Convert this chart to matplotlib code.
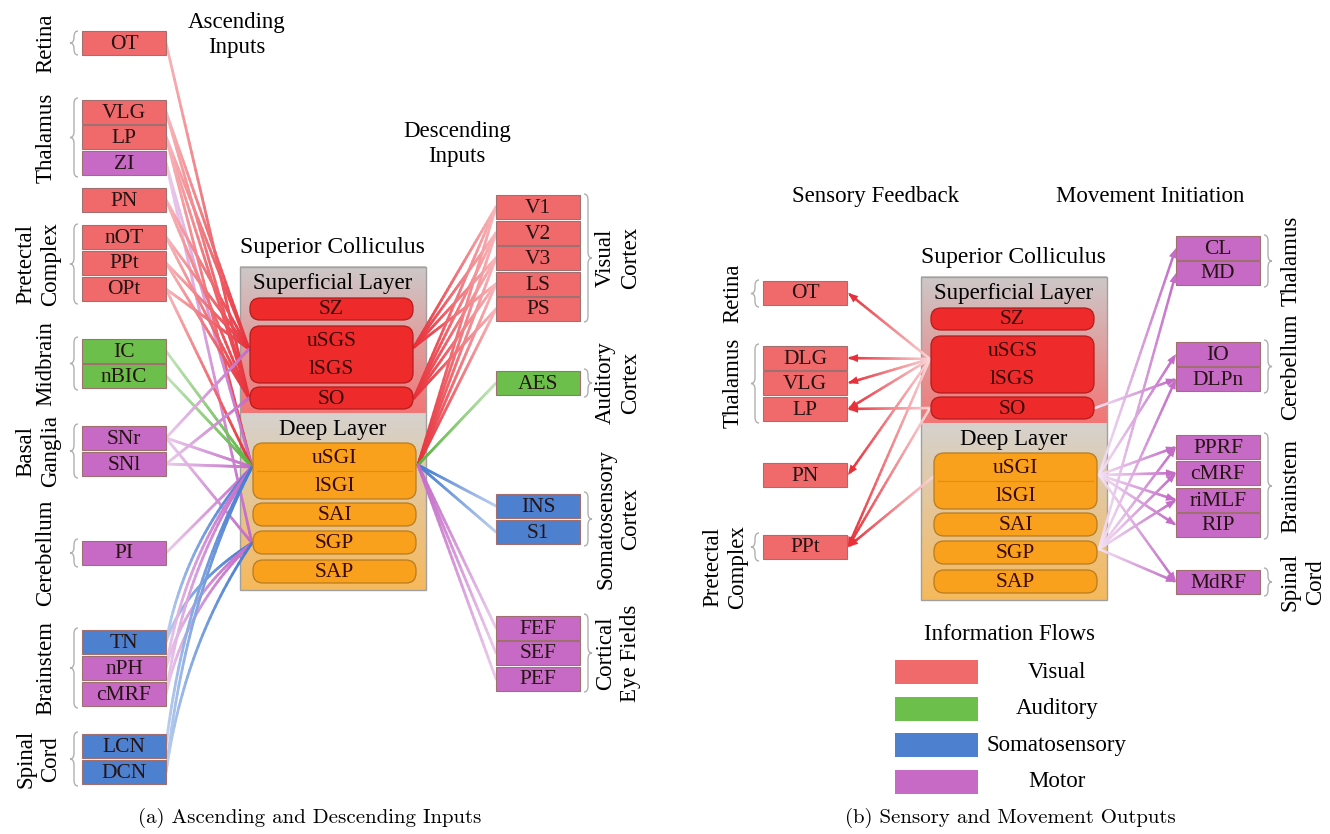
import numpy as np
import matplotlib.pyplot as plt
from matplotlib.patches import Rectangle, FancyBboxPatch, PathPatch, Polygon
from matplotlib.collections import LineCollection
from matplotlib.path import Path
from matplotlib.colors import to_rgb

plt.rcParams['font.family'] = ['Liberation Serif', 'DejaVu Serif']

# flow type -> colour
box_col = {'vis': '#f06a6c', 'aud': '#6dbf4b', 'som': '#4d80cf', 'mot': '#c66ac6'}
line_col = {'vis': '#e8303a', 'aud': '#58b43e', 'som': '#457bd0', 'mot': '#c46cc8'}

# ---- (a) ascending inputs (left column)
asc_names = ["OT", "VLG", "LP", "ZI", "PN", "nOT", "PPt", "OPt", "IC", "nBIC",
             "SNr", "SNl", "PI", "TN", "nPH", "cMRF", "LCN", "DCN"]
asc_flow = ["vis", "vis", "vis", "mot", "vis", "vis", "vis", "vis", "aud", "aud",
            "mot", "mot", "mot", "som", "mot", "mot", "som", "som"]
asc_y = [43, 112, 137, 163, 200, 237, 263, 289, 351, 376,
         438, 464, 553, 642, 668, 694, 746, 772]
asc_targets = {
    "OT": ["SO"], "VLG": ["uSGS", "SO"], "LP": ["uSGS", "SO", "uSGI"],
    "ZI": ["uSGI", "SGP"], "PN": ["uSGS", "SO"], "nOT": ["uSGS", "SO"],
    "PPt": ["uSGS", "SO"], "OPt": ["uSGS", "uSGI"], "IC": ["uSGI"],
    "nBIC": ["uSGI"], "SNr": ["uSGS", "uSGI", "SGP"], "SNl": ["SO", "uSGI"],
    "PI": ["uSGI"], "TN": ["uSGI", "SGP"], "nPH": ["uSGI", "SGP"],
    "cMRF": ["uSGI", "SGP"], "LCN": ["uSGI"], "DCN": ["uSGI", "SGP"],
}
asc_groups = [("Retina", 31, 55), ("Thalamus", 98, 177), ("Pretectal\nComplex", 224, 304),
              ("Midbrain", 337, 390), ("Basal\nGanglia", 424, 478), ("Cerebellum", 539, 567),
              ("Brainstem", 628, 708), ("Spinal\nCord", 732, 786)]

# ---- (a) descending inputs (right column)
desc_names = ["V1", "V2", "V3", "LS", "PS", "AES", "INS", "S1", "FEF", "SEF", "PEF"]
desc_flow = ["vis", "vis", "vis", "vis", "vis", "aud", "som", "som", "mot", "mot", "mot"]
desc_y = [207, 233, 258, 284, 309, 383, 506, 532, 628, 653, 679]
desc_targets = {
    "V1": ["uSGS", "SO", "uSGI"], "V2": ["uSGS", "SO", "uSGI"],
    "V3": ["uSGS", "SO", "uSGI"], "LS": ["uSGS", "SO", "uSGI"],
    "PS": ["SO", "uSGI"], "AES": ["uSGI"], "INS": ["uSGI"], "S1": ["uSGI"],
    "FEF": ["uSGI"], "SEF": ["uSGI"], "PEF": ["uSGI"],
}
desc_groups = [("Visual\nCortex", 194, 322), ("Auditory\nCortex", 369, 397),
               ("Somatosensory\nCortex", 492, 546), ("Cortical\nEye Fields", 614, 692)]

# ---- (b) sensory feedback outputs (left column)
fb_names = ["OT", "DLG", "VLG", "LP", "PN", "PPt"]
fb_y = [293, 358, 383, 409, 475, 547]
fb_sources = {
    "OT": ["uSGS"], "DLG": ["uSGS"], "VLG": ["uSGS"], "LP": ["uSGS", "SO"],
    "PN": ["uSGS"], "PPt": ["uSGS", "SO", "uSGI"],
}
fb_groups = [("Retina", 280, 307), ("Thalamus", 344, 423), ("Pretectal\nComplex", 533, 561)]

# ---- (b) movement initiation outputs (right column)
mv_names = ["CL", "MD", "IO", "DLPn", "PPRF", "cMRF", "riMLF", "RIP", "MdRF"]
mv_y = [248, 273, 354, 379, 447, 473, 500, 525, 582]
mv_sources = {
    "CL": ["uSGI"], "MD": ["SGP"], "IO": ["uSGI"], "DLPn": ["SO", "SGP"],
    "PPRF": ["uSGI", "SGP"], "cMRF": ["uSGI", "SGP"], "riMLF": ["uSGI", "SGP"],
    "RIP": ["uSGI"], "MdRF": ["uSGI", "SGP"],
}
mv_groups = [("Thalamus", 235, 287), ("Cerebellum", 340, 393),
             ("Brainstem", 433, 539), ("Spinal\nCord", 568, 596)]

legend_names = ["Visual", "Auditory", "Somatosensory", "Motor"]
legend_flow = ["vis", "aud", "som", "mot"]

fig = plt.figure(figsize=(13.3, 8.34), dpi=100)
ax = fig.add_axes([0, 0, 1, 1])
ax.set_xlim(0, 1330)
ax.set_ylim(834, 0)
ax.axis('off')

BW, BH = 84, 24
FS = 16.5


def box(x, yc, name, col):
    ax.add_patch(Rectangle((x, yc - BH / 2), BW, BH, fc=col, ec='#a07070', lw=0.8, zorder=4))
    ax.text(x + BW / 2, yc + 1, name, ha='center', va='center', fontsize=15.5,
            color='#261414', zorder=5)


def brace(x, y0, y1, side, w=8):
    s = -1 if side == 'left' else 1
    ym = (y0 + y1) / 2
    r = min(6, (y1 - y0) / 4)
    xm, xt = x + s * w / 2, x + s * w
    verts = [(x, y0), (xm, y0), (xm, y0 + r), (xm, ym - r), (xm, ym), (xt, ym),
             (xm, ym), (xm, ym + r), (xm, y1 - r), (xm, y1), (x, y1)]
    codes = [Path.MOVETO, Path.CURVE3, Path.CURVE3, Path.LINETO, Path.CURVE3, Path.CURVE3,
             Path.CURVE3, Path.CURVE3, Path.LINETO, Path.CURVE3, Path.CURVE3]
    ax.add_patch(PathPatch(Path(verts, codes), fc='none', ec='#b0b0b0', lw=1.0, zorder=3))


def flow(p0, p1, col, ctrl=None, lw=2.0, arrow=False, n=40, f0=0.35):
    p0, p1 = np.array(p0, float), np.array(p1, float)
    t = np.linspace(0, 1, n)[:, None]
    if ctrl is None:
        pts = p0 + (p1 - p0) * t
    else:
        c = np.array(ctrl, float)
        pts = (1 - t) ** 2 * p0 + 2 * (1 - t) * t * c + t ** 2 * p1
    d = pts[-1] - pts[-2]
    d = d / np.hypot(*d)
    if arrow:
        pts[-1] = p1 - d * 6
    segs = np.stack([pts[:-1], pts[1:]], axis=1)
    base = np.array(to_rgb(col))
    f = f0 + (1 - f0) * np.linspace(0, 1, n - 1)[:, None]
    cols = base * f + (1 - f)
    ax.add_collection(LineCollection(segs, colors=cols, lw=lw, capstyle='round', zorder=2))
    if arrow:
        nrm = np.array([-d[1], d[0]])
        tri = [p1, p1 - d * 10 + nrm * 4, p1 - d * 10 - nrm * 4]
        ax.add_patch(Polygon(tri, closed=True, fc=col, ec='none', zorder=5))


def vgrad(x0, x1, y0, y1, c0, c1):
    t = np.linspace(0, 1, 64)[:, None, None]
    img = (1 - t) * np.array(to_rgb(c0)) + t * np.array(to_rgb(c1))
    ax.imshow(img, extent=(x0, x1, y1, y0), aspect='auto', interpolation='bilinear', zorder=1)


def colliculus(x0, y0):
    vgrad(x0, x0 + 186, y0, y0 + 146, '#cdc8c8', '#f27676')
    vgrad(x0, x0 + 186, y0 + 146, y0 + 323, '#d6d2ce', '#f6b95c')
    ax.add_patch(Rectangle((x0, y0), 186, 323, fc='none', ec='#a0a0a0', lw=1.0, zorder=2))
    ax.text(x0 + 92, y0 - 20, "Superior Colliculus", ha='center', va='center', fontsize=17)
    ax.text(x0 + 93, y0 + 17, "Superficial Layer", ha='center', va='center', fontsize=FS)
    ax.text(x0 + 93, y0 + 162, "Deep Layer", ha='center', va='center', fontsize=FS)
    red, orange = '#ee2a2a', '#f9a01c'
    layers = [(10, 31, 53, red, ["SZ"]), (10, 59, 116, red, ["uSGS", "lSGS"]),
              (10, 120, 142, red, ["SO"]), (13, 176, 232, orange, ["uSGI", "lSGI"]),
              (13, 236, 259, orange, ["SAI"]), (13, 264, 287, orange, ["SGP"]),
              (13, 293, 316, orange, ["SAP"])]
    for dx, a, b, c, labels in layers:
        ec = '#b41c1c' if c == red else '#b77c20'
        ax.add_patch(FancyBboxPatch((x0 + dx, y0 + a), 163, b - a,
                                    boxstyle="round,pad=0,rounding_size=10",
                                    fc=c, ec=ec, lw=0.9, zorder=4))
        h = (b - a) / len(labels)
        for k, lab in enumerate(labels):
            ax.text(x0 + dx + 81.5, y0 + a + (k + 0.5) * h + 1, lab, ha='center', va='center',
                    fontsize=15.5, color='#3a0a0a', zorder=5)
        if c == orange and len(labels) == 2:
            ax.plot([x0 + dx + 4, x0 + dx + 159], [y0 + a + h] * 2, color='#e08c18',
                    lw=0.8, zorder=4.5)
    left = {"uSGS": (x0 + 9, y0 + 82), "SO": (x0 + 9, y0 + 131),
            "uSGI": (x0 + 12, y0 + 200), "SGP": (x0 + 12, y0 + 276)}
    right = {"uSGS": (x0 + 174, y0 + 80), "SO": (x0 + 174, y0 + 131),
             "uSGI": (x0 + 178, y0 + 198), "SGP": (x0 + 178, y0 + 272)}
    return left, right


def group_label(x, yc, lab):
    ax.text(x, yc, lab, rotation=90, ha='center', va='center', fontsize=FS,
            linespacing=1.25, multialignment='center')


# ---------------- panel (a)
la, ra = colliculus(240, 267)
for name, fl, y in zip(asc_names, asc_flow, asc_y):
    box(82, y, name, box_col[fl])
    for tg in asc_targets[name]:
        p1 = la[tg]
        ctrl = None
        if y > 600:
            ctrl = (166 + 0.22 * (p1[0] - 166), y + 0.57 * (p1[1] - y))
        flow((166, y), p1, line_col[fl], ctrl=ctrl)
for lab, a, b in asc_groups:
    brace(78, a, b, 'left')
    group_label(46 if '\n' not in lab else 38, (a + b) / 2, lab)

for name, fl, y in zip(desc_names, desc_flow, desc_y):
    box(496, y, name, box_col[fl])
    for tg in desc_targets[name]:
        flow((496, y), ra[tg], line_col[fl])
for lab, a, b in desc_groups:
    brace(584, a, b, 'right')
    group_label(618, (a + b) / 2, lab)

ax.text(237, 35, "Ascending\nInputs", ha='center', va='center', fontsize=FS, linespacing=1.3)
ax.text(457, 144, "Descending\nInputs", ha='center', va='center', fontsize=FS, linespacing=1.3)

# ---------------- panel (b)
lb, rb = colliculus(921, 277)
for name, y in zip(fb_names, fb_y):
    box(763, y, name, box_col['vis'])
    for src in fb_sources[name]:
        flow(lb[src], (848, y), line_col['vis'], arrow=True, lw=1.8, f0=0.2)
for lab, a, b in fb_groups:
    brace(759, a, b, 'left')
group_label(733, 293, "Retina")
group_label(733, 383, "Thalamus")
group_label(725, 567, "Pretectal\nComplex")

for name, y in zip(mv_names, mv_y):
    box(1176, y, name, box_col['mot'])
    for src in mv_sources[name]:
        flow(rb[src], (1176, y), line_col['mot'], arrow=True, lw=1.8, f0=0.2)
for lab, a, b in mv_groups:
    brace(1264, a, b, 'right')
    group_label(1291 if '\n' not in lab else 1303, (a + b) / 2, lab)

ax.text(876, 196, "Sensory Feedback", ha='center', va='center', fontsize=FS)
ax.text(1150, 196, "Movement Initiation", ha='center', va='center', fontsize=FS)

# legend
ax.text(1010, 634, "Information Flows", ha='center', va='center', fontsize=FS)
for i, (lab, fl) in enumerate(zip(legend_names, legend_flow)):
    yc = 672 + i * 36.5
    ax.add_patch(Rectangle((895, yc - 12), 83, 24, fc=box_col[fl], ec='none', zorder=3))
    ax.text(1057, yc, lab, ha='center', va='center', fontsize=FS)

# captions
ax.text(310, 818, "(a) Ascending and Descending Inputs", ha='center', va='center',
        fontsize=15, family='cmr10')
ax.text(1010, 818, "(b) Sensory and Movement Outputs", ha='center', va='center',
        fontsize=15, family='cmr10')

ax.set_xlim(0, 1330)
ax.set_ylim(834, 0)
fig.savefig("out.png", dpi=100)
